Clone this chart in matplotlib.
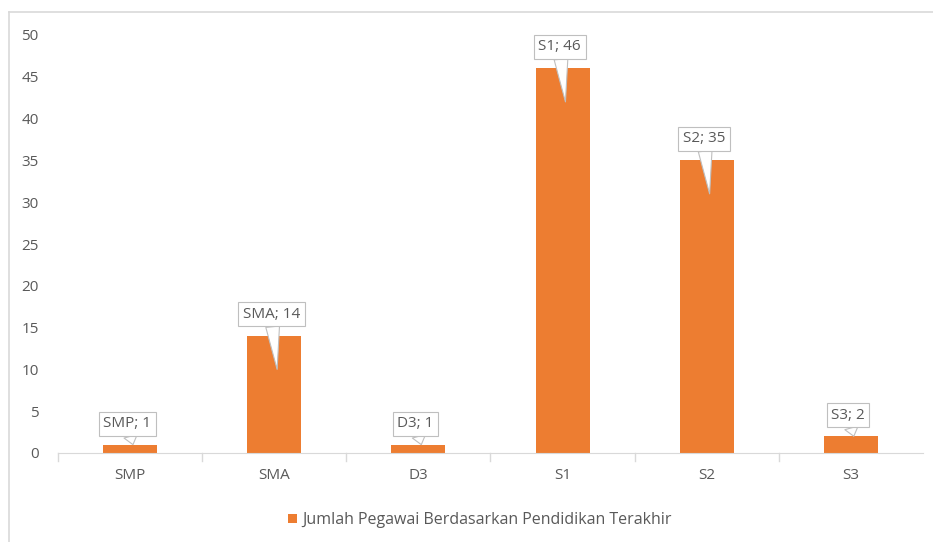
import matplotlib
matplotlib.use("Agg")
import matplotlib.pyplot as plt
from matplotlib.lines import Line2D

# data
pendidikan = ["SMP", "SMA", "D3", "S1", "S2", "S3"]
jumlah = [1, 14, 1, 46, 35, 2]
label_seri = "Jumlah Pegawai Berdasarkan Pendidikan Terakhir"

ORANYE = "#ED7D31"
ABU = "#595959"
GARIS = "#d9d9d9"

plt.rcParams["font.family"] = ["Open Sans", "DejaVu Sans"]

fig = plt.figure(figsize=(9.33, 5.42), dpi=100)
ax = fig.add_axes([58 / 933, 89 / 542, 865 / 933, 418 / 542])

x = list(range(len(pendidikan)))
ax.bar(x, jumlah, width=0.375, color=ORANYE, label=label_seri, zorder=2)

ax.set_xlim(-0.5, len(pendidikan) - 0.5)
ax.set_ylim(0, 50)
ax.set_yticks(range(0, 51, 5))
ax.set_xticks(x)
ax.set_xticklabels(pendidikan)
ax.tick_params(axis="y", length=0, colors=ABU, labelsize=11, pad=14)
ax.tick_params(axis="x", length=0, colors=ABU, labelsize=11, pad=11)
for s in ["top", "right", "left"]:
    ax.spines[s].set_visible(False)
ax.spines["bottom"].set_color(GARIS)

# tick kecil di batas kategori
for b in [i + 0.5 for i in x[:-1]] + [-0.5]:
    ax.plot([b, b], [0, -0.9], color=GARIS, lw=1, clip_on=False)

# label callout
for xi, (kat, v) in enumerate(zip(pendidikan, jumlah)):
    if v > 5:
        teks_y, ujung_y = v + 2.6, v - 4.0
    else:
        teks_y, ujung_y = v + 2.5, v
    ax.annotate(f"{kat}; {v}", xy=(xi + 0.02, ujung_y), xytext=(xi - 0.02, teks_y),
                ha="center", va="center", fontsize=11, color=ABU, zorder=5,
                bbox=dict(boxstyle="square,pad=0.3", fc="white", ec="#bfbfbf", lw=0.8),
                arrowprops=dict(arrowstyle="wedge,tail_width=0.9", fc="white",
                                ec="#bfbfbf", lw=0.8, shrinkA=0, shrinkB=0))

leg = fig.legend(loc="center", bbox_to_anchor=(480 / 933, 1 - 520 / 542), frameon=False,
                 fontsize=11.5, handlelength=0.55, handleheight=0.55, handletextpad=0.3)
for t in leg.get_texts():
    t.set_color(ABU)

# bingkai area grafik (hanya sisi atas dan kiri terlihat)
fig.add_artist(Line2D([9 / 933, 1], [1 - 12 / 542] * 2, transform=fig.transFigure, color=GARIS, lw=1.2))
fig.add_artist(Line2D([9 / 933] * 2, [0, 1 - 12 / 542], transform=fig.transFigure, color=GARIS, lw=1.2))

fig.savefig("out.png", dpi=100)
